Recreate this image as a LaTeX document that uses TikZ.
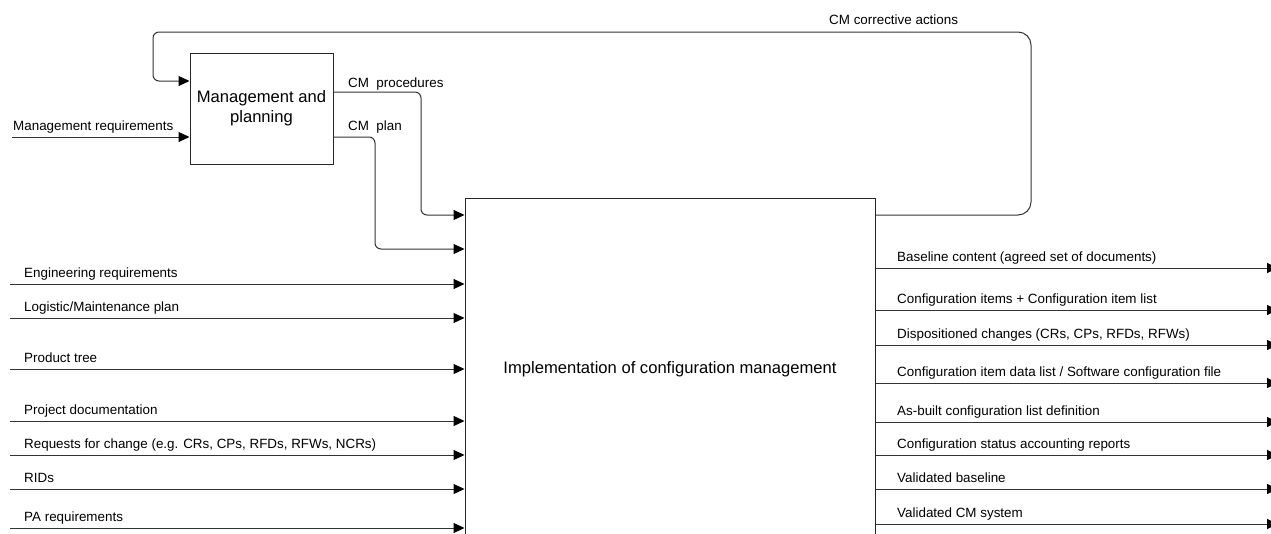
\documentclass[tikz,border=0pt]{standalone}
\usepackage{fontspec}
\setmainfont{Liberation Sans}
\usetikzlibrary{arrows.meta}
\begin{document}
\begin{tikzpicture}[x=1pt,y=-1pt,
  ln/.style={draw=black!80,line width=1pt},
  arr/.style={ln,-{Triangle[length=11pt,width=10pt,color=black]}},
  box/.style={draw=black!85,line width=1pt,fill=white,inner sep=0pt,align=center,
    font=\fontsize{16.6}{20}\selectfont},
  lbl/.style={anchor=base west,inner sep=0pt,font=\fontsize{13.4}{16}\selectfont},
  ]
\clip (0,0) rectangle (1271,533);

% activity boxes
\node[box,minimum width=143pt,minimum height=111pt] (mgmt) at (261.5,108.5)
  {Management and\\planning};
\node[box,minimum width=410pt,minimum height=342pt] (impl) at (670,369)
  {Implementation of configuration management};

% control input of the planning box
\coordinate (mreq) at (12,137);
\draw[arr] (mreq) -- (mgmt.west |- mreq);
\node[lbl] (mreqL) at (13,130) {Management requirements};

% feedback loop
\coordinate (fbOut) at (0,215);
\coordinate (fbIn) at (0,81);
\draw[arr,rounded corners=13pt] (impl.east |- fbOut) -- (1031,215) -- (1031,32)
  [rounded corners=6pt] -- (153,32) -- (153,81) -- (mgmt.west |- fbIn);
\node[lbl] (fbL) at (829,24) {CM corrective actions};

% outputs of the planning box
\coordinate (procA) at (0,92);
\coordinate (procB) at (0,215);
\draw[arr,rounded corners=6pt] (mgmt.east |- procA) -- (421,92) -- (421,215) -- (impl.west |- procB);
\node[lbl] (procL) at (348,87) {CM\ \ procedures};
\coordinate (planA) at (0,137);
\coordinate (planB) at (0,249);
\draw[arr,rounded corners=6pt] (mgmt.east |- planA) -- (375,137) -- (375,249) -- (impl.west |- planB);
\node[lbl] (planL) at (348,130) {CM\ \ plan};

% inputs
\foreach \y/\t/\n in {284/{Engineering requirements}/i1,
                      318/{Logistic/Maintenance plan}/i2,
                      369/{Product tree}/i3,
                      421/{Project documentation}/i4,
                      455/{Requests for change (e.g. CRs, CPs, RFDs, RFWs, NCRs)}/i5,
                      489/{RIDs}/i6,
                      528/{PA requirements}/i7}{
  \coordinate (\n) at (10,\y);
  \draw[arr] (\n) -- (impl.west |- \n);
  \node[lbl] (\n L) at (24,\y-7) {\t};
}

% outputs
\foreach \y/\t/\n in {268/{Baseline content (agreed set of documents)}/o1,
                      310/{Configuration items + Configuration item list}/o2,
                      345/{Dispositioned changes (CRs, CPs, RFDs, RFWs)}/o3,
                      383/{Configuration item data list / Software configuration file}/o4,
                      422/{As-built configuration list definition}/o5,
                      455/{Configuration status accounting reports}/o6,
                      489/{Validated baseline}/o7,
                      524/{Validated CM system}/o8}{
  \coordinate (\n) at (1278,\y);
  \draw[arr] (impl.east |- \n) -- (\n);
  \node[lbl] (\n L) at (897,\y-7) {\t};
}
\end{tikzpicture}
\end{document}
